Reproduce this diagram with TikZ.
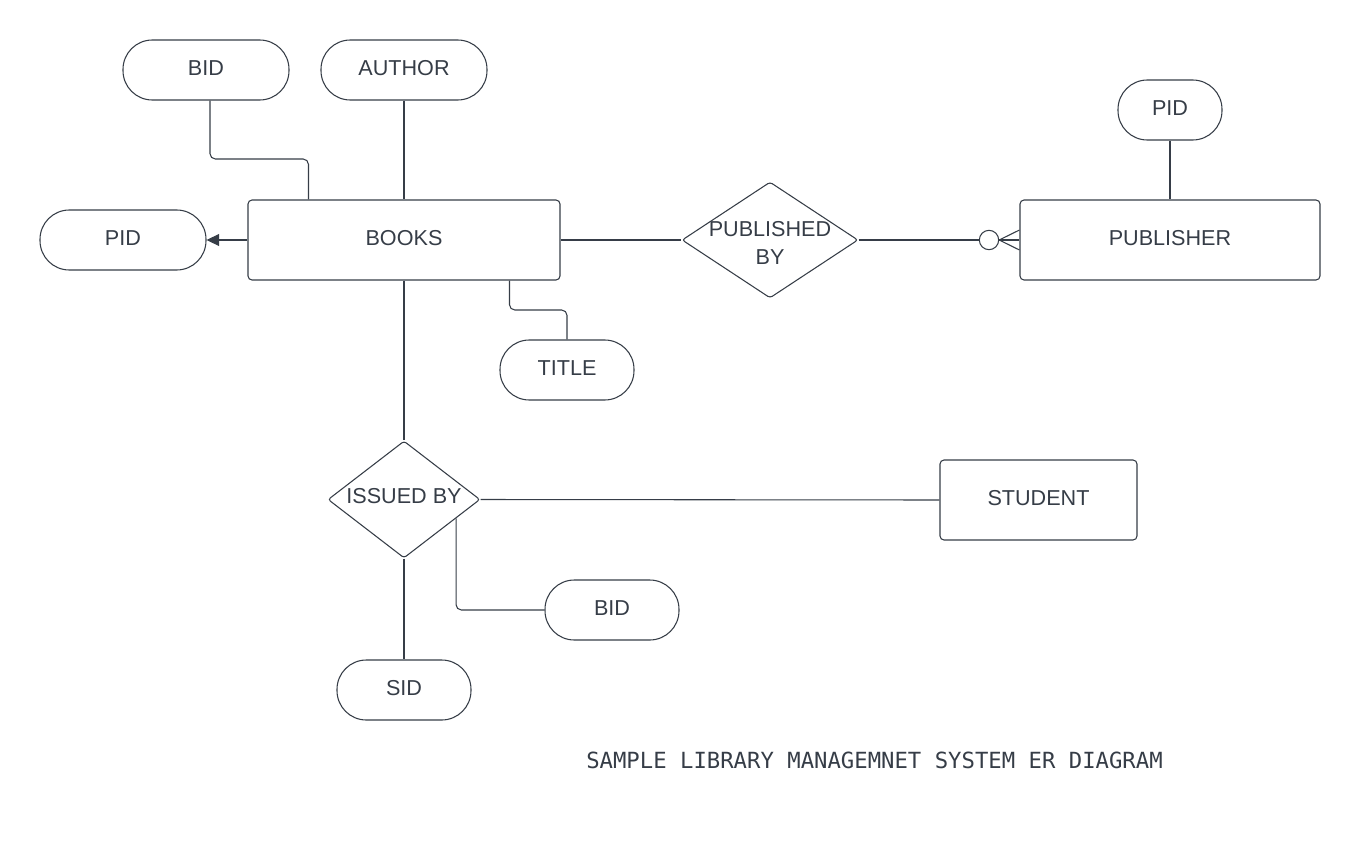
\documentclass[tikz,border=0pt]{standalone}
\usepackage{fontspec}
\setmainfont{Liberation Sans}
\newfontfamily\capfont{DejaVu Sans Mono}
\usetikzlibrary{shapes.geometric,arrows.meta,calc}
\definecolor{ink}{HTML}{363D47}
\begin{document}
\begin{tikzpicture}[x=0.75pt,y=-0.75pt,
  lbl/.style={text=ink,font=\fontsize{16.2}{20}\selectfont,inner sep=0pt},
  attr/.style={draw=ink,line width=0.8pt,rounded corners=22pt,minimum width=#1*0.75pt,minimum height=45pt,inner sep=0pt,text depth=3pt,text=ink,font=\fontsize{16.2}{20}\selectfont},
  entity/.style={draw=ink,line width=0.8pt,rounded corners=3pt,minimum width=#1*0.75pt,minimum height=60pt,inner sep=0pt,text depth=3.5pt,text=ink,font=\fontsize{16.2}{20}\selectfont},
  rel/.style n args={2}{diamond,draw=ink,line width=0.8pt,rounded corners=2pt,minimum width=#1*0.75pt,minimum height=#2*0.75pt,inner sep=0pt},
  conn/.style={draw=ink,line width=0.8pt,rounded corners=4pt},
  ring/.style={circle,draw=ink,line width=0.8pt,fill=white,minimum size=14.5pt,inner sep=0pt}
]
\useasboundingbox (0,0) rectangle (1360,860);
% entities
\node[entity=312] (books) at (404,240) {BOOKS};
\node[entity=300] (publisher) at (1170,240) {PUBLISHER};
\node[entity=197] (student) at (1038.5,500) {STUDENT};
% attributes
\node[attr=166] (bid1) at (206,70) {BID};
\node[attr=166] (author) at (404,70) {AUTHOR};
\node[attr=166] (pid1) at (123,240) {PID};
\node[attr=104] (pid2) at (1170,110) {PID};
\node[attr=134] (title) at (567,370) {TITLE};
\node[attr=134] (bid2) at (612,610) {BID};
\node[attr=134] (sid) at (404,690) {SID};
% relationships
\node[rel={176}{116}] (pub) at (770,240) {};
\node[lbl,align=center] (publbl) at (770,243) {PUBLISHED\\[1pt]BY};
\node[rel={152}{117}] (iss) at (404,499.5) {};
\node[lbl] (isslbl) at (404,496) {ISSUED BY};
% connectors
\draw[conn] ([xshift=3pt]bid1.south) -- ([xshift=3pt]bid1.south |- 0,159) -| ($(books.north west)+(61,0)$);
\draw[conn] (author.south) -- (books.north);
\draw[conn,-{Triangle[length=9.5pt,width=9pt]}] (books.west) -- (pid1.east);
\draw[conn] ($(books.south west)+(262,0)$) |- (540,310) -| (title.north);
\draw[conn] (books.south) -- (iss.north);
\draw[conn] (books.east) -- (pub.west);
\node[ring] (zero) at (989,240) {};
\draw[conn] (pub.east) -- (zero.west);
\draw[conn] (zero.east) -- ($(publisher.west)+(0,-10)$);
\draw[conn] (zero.east) -- (publisher.west);
\draw[conn] (zero.east) -- ($(publisher.west)+(0,10)$);
\draw[conn] (pid2.south) -- (publisher.north);
\draw[conn] (iss.east) -- (student.west);
\draw[conn] ($(iss.east)!0.32!(iss.south)$) |- (bid2.west);
\draw[conn] (iss.south) -- (sid.north);
% caption
\node[text=ink,font=\capfont\fontsize{16.7}{20}\selectfont,inner sep=0pt] (caption) at (874.5,760) {SAMPLE LIBRARY MANAGEMNET SYSTEM ER DIAGRAM};
\end{tikzpicture}
\end{document}
